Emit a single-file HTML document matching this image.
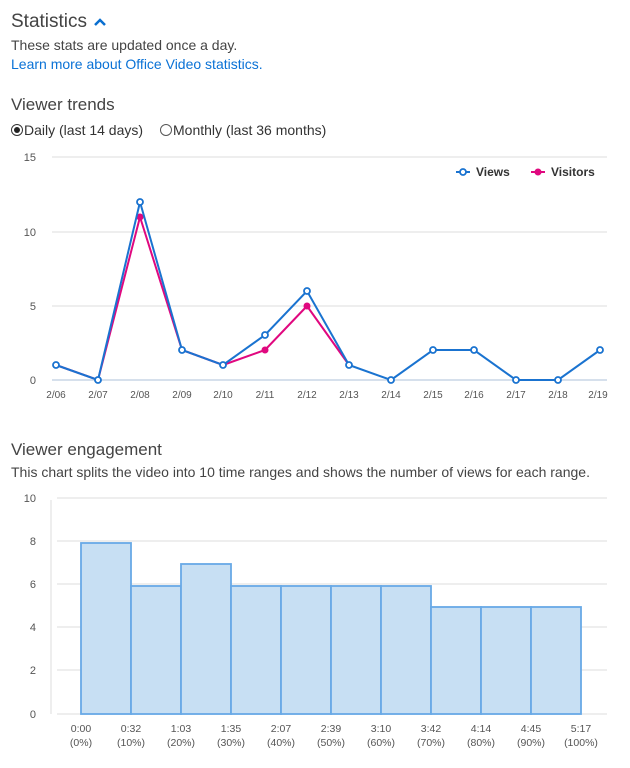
<!DOCTYPE html>
<html><head><meta charset="utf-8"><style>
body{margin:0;background:#fff;width:630px;height:768px;overflow:hidden;font-family:"Liberation Sans",sans-serif;color:#333;position:relative}
.t{position:absolute;white-space:nowrap}
</style></head><body>
<div class="t" style="left:11px;top:11px;font-size:19px;color:#444">Statistics</div>
<svg width="14" height="10" style="position:absolute;left:93px;top:17px"><polyline points="2,8 7,3 12,8" fill="none" stroke="#0a6fd0" stroke-width="2.5"/></svg>
<div class="t" style="left:11px;top:37px;font-size:14px;color:#444">These stats are updated once a day.</div>
<div class="t" style="left:11px;top:56px;font-size:14px;color:#0a72d6">Learn more about Office Video statistics.</div>
<div class="t" style="left:11px;top:95px;font-size:17px;color:#444">Viewer trends</div>
<div class="t" style="left:11px;top:122px;font-size:14px;color:#333"><span style="display:inline-block;width:10px;height:10px;border:1px solid #333;border-radius:50%;position:relative;top:1px;margin-right:1px"><span style="position:absolute;left:2px;top:2px;width:6px;height:6px;background:#222;border-radius:50%"></span></span>Daily (last 14 days)</div>
<div class="t" style="left:160px;top:122px;font-size:14px;color:#333"><span style="display:inline-block;width:10px;height:10px;border:1px solid #555;border-radius:50%;position:relative;top:1px;margin-right:1px"></span>Monthly (last 36 months)</div>
<div class="t" style="left:11px;top:440px;font-size:17px;color:#444">Viewer engagement</div>
<div class="t" style="left:11px;top:464px;font-size:14px;color:#444">This chart splits the video into 10 time ranges and shows the number of views for each range.</div>
<svg width="630" height="768" style="position:absolute;left:0;top:0" font-family="Liberation Sans, sans-serif">
<g stroke="#e3e3e3" stroke-width="1.2">
<line x1="52" y1="157" x2="607" y2="157"/><line x1="52" y1="232" x2="607" y2="232"/><line x1="52" y1="306" x2="607" y2="306"/>
</g>
<line x1="52" y1="380" x2="607" y2="380" stroke="#c8d6e5" stroke-width="1.5"/>
<g font-size="11" fill="#555" text-anchor="end"><text x="36" y="161">15</text><text x="36" y="236">10</text><text x="36" y="310">5</text><text x="36" y="384">0</text></g>
<g font-size="10" fill="#555" text-anchor="middle">
<text x="56" y="398">2/06</text><text x="98" y="398">2/07</text><text x="140" y="398">2/08</text><text x="182" y="398">2/09</text><text x="223" y="398">2/10</text><text x="265" y="398">2/11</text><text x="307" y="398">2/12</text><text x="349" y="398">2/13</text><text x="391" y="398">2/14</text><text x="433" y="398">2/15</text><text x="474" y="398">2/16</text><text x="516" y="398">2/17</text><text x="558" y="398">2/18</text><text x="598" y="398">2/19</text></g>
<polyline fill="none" stroke="#e0087f" stroke-width="2" points="56,365 98,380 140,217 182,350 223,365 265,350 307,306 349,365"/>
<g fill="#e0087f"><circle cx="140" cy="217" r="3.5"/><circle cx="265" cy="350" r="3.5"/><circle cx="307" cy="306" r="3.5"/></g>
<polyline fill="none" stroke="#1a73d0" stroke-width="2" points="56,365 98,380 140,202 182,350 223,365 265,335 307,291 349,365 391,380 433,350 474,350 516,380 558,380 600,350"/>
<g fill="#fff" stroke="#1a73d0" stroke-width="1.8">
<circle cx="56" cy="365" r="3"/><circle cx="98" cy="380" r="3"/><circle cx="140" cy="202" r="3"/><circle cx="182" cy="350" r="3"/><circle cx="223" cy="365" r="3"/><circle cx="265" cy="335" r="3"/><circle cx="307" cy="291" r="3"/><circle cx="349" cy="365" r="3"/><circle cx="391" cy="380" r="3"/><circle cx="433" cy="350" r="3"/><circle cx="474" cy="350" r="3"/><circle cx="516" cy="380" r="3"/><circle cx="558" cy="380" r="3"/><circle cx="600" cy="350" r="3"/></g>
<line x1="456" y1="172" x2="470" y2="172" stroke="#1a73d0" stroke-width="2"/><circle cx="463" cy="172" r="3" fill="#fff" stroke="#1a73d0" stroke-width="1.8"/>
<text x="476" y="176" font-size="12" font-weight="bold" fill="#333">Views</text>
<line x1="531" y1="172" x2="545" y2="172" stroke="#e0087f" stroke-width="2"/><circle cx="538" cy="172" r="3.5" fill="#e0087f"/>
<text x="551" y="176" font-size="12" font-weight="bold" fill="#333">Visitors</text>
<g stroke="#e3e3e3" stroke-width="1.2">
<line x1="57" y1="498" x2="607" y2="498"/><line x1="57" y1="541" x2="607" y2="541"/><line x1="57" y1="584" x2="607" y2="584"/><line x1="57" y1="627" x2="607" y2="627"/><line x1="57" y1="670" x2="607" y2="670"/><line x1="57" y1="714" x2="607" y2="714"/>
<line x1="51" y1="500" x2="51" y2="714"/></g>
<g font-size="11" fill="#555" text-anchor="end"><text x="36" y="502">10</text><text x="36" y="545">8</text><text x="36" y="588">6</text><text x="36" y="631">4</text><text x="36" y="674">2</text><text x="36" y="718">0</text></g>
<g fill="#c7dff3" stroke="#68a9e6" stroke-width="1.8">
<rect x="81" y="543" width="50" height="171"/><rect x="131" y="586" width="50" height="128"/><rect x="181" y="564" width="50" height="150"/><rect x="231" y="586" width="50" height="128"/><rect x="281" y="586" width="50" height="128"/><rect x="331" y="586" width="50" height="128"/><rect x="381" y="586" width="50" height="128"/><rect x="431" y="607" width="50" height="107"/><rect x="481" y="607" width="50" height="107"/><rect x="531" y="607" width="50" height="107"/></g>
<g font-size="10.5" fill="#555" text-anchor="middle">
<text x="81" y="732">0:00</text><text x="131" y="732">0:32</text><text x="181" y="732">1:03</text><text x="231" y="732">1:35</text><text x="281" y="732">2:07</text><text x="331" y="732">2:39</text><text x="381" y="732">3:10</text><text x="431" y="732">3:42</text><text x="481" y="732">4:14</text><text x="531" y="732">4:45</text><text x="581" y="732">5:17</text>
<text x="81" y="746">(0%)</text><text x="131" y="746">(10%)</text><text x="181" y="746">(20%)</text><text x="231" y="746">(30%)</text><text x="281" y="746">(40%)</text><text x="331" y="746">(50%)</text><text x="381" y="746">(60%)</text><text x="431" y="746">(70%)</text><text x="481" y="746">(80%)</text><text x="531" y="746">(90%)</text><text x="581" y="746">(100%)</text></g>
</svg>
</body></html>
